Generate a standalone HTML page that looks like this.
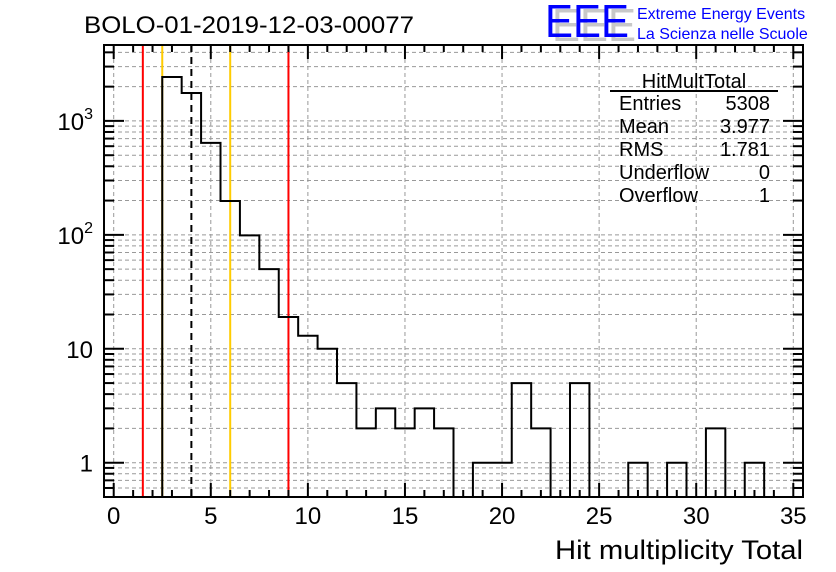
<!DOCTYPE html>
<html><head><meta charset="utf-8"><style>
body{margin:0;background:#fff;}
svg{display:block;font-family:"Liberation Sans",sans-serif;}
</style></head><body>
<svg id="c" width="836" height="572" viewBox="0 0 836 572">
<rect width="836" height="572" fill="#fff"/>
<text x="84" y="33" font-size="24" textLength="330" lengthAdjust="spacingAndGlyphs">BOLO-01-2019-12-03-00077</text>
<g>
<text x="552" y="41" font-size="46" fill="#c8c8c8" textLength="84" lengthAdjust="spacingAndGlyphs">EEE</text>
<text x="545" y="37" font-size="46" fill="#0000ff" textLength="84" lengthAdjust="spacingAndGlyphs">EEE</text>
<text x="637" y="19" font-size="16" fill="#0000ff">Extreme Energy Events</text>
<text x="637" y="39" font-size="16" fill="#0000ff">La Scienza nelle Scuole</text>
</g>
<g id="grid"></g>
<g id="marks"></g>
<g id="axes"></g>
<g font-size="20">
<text x="694" y="88" text-anchor="middle">HitMultTotal</text>
<line x1="610" y1="91" x2="778" y2="91" stroke="#000" stroke-width="2"/>
<text x="619" y="110">Entries</text><text x="770" y="110" text-anchor="end">5308</text>
<text x="619" y="133">Mean</text><text x="770" y="133" text-anchor="end">3.977</text>
<text x="619" y="156">RMS</text><text x="770" y="156" text-anchor="end">1.781</text>
<text x="619" y="179">Underflow</text><text x="770" y="179" text-anchor="end">0</text>
<text x="619" y="202">Overflow</text><text x="770" y="202" text-anchor="end">1</text>
</g>
<text x="555" y="559" font-size="27" textLength="248" lengthAdjust="spacingAndGlyphs">Hit multiplicity Total</text>
</svg>
<script>
const binCenters=[3,4,5,6,7,8,9,10,11,12,13,14,15,16,17,18,19,20,21,22,23,24,25,26,27,28,29,30,31,32,33,34,35];
const binCounts=[2430,1760,641,198,99,50,19,13,10,5,2,3,2,3,2,0,1,1,5,2,0,5,0,0,1,0,1,0,2,0,1,0,0];
const xTicks=[0,5,10,15,20,25,30,35];
const yMajor=[1,10,100,1000];
const yLabels=["1","10","10²","10³"];
const redLines=[1.5,9];
const yellowLines=[2.5,6];
const dashedLines=[4];
const NS="http://www.w3.org/2000/svg";
const L=104,R=803,T=45,B=497,xmin=-0.5,xmax=35.5,ymin=0.5,ymax=4640;
const X=v=>L+(v-xmin)/(xmax-xmin)*(R-L);
const Y=v=>B-(Math.log10(v)-Math.log10(ymin))/(Math.log10(ymax)-Math.log10(ymin))*(B-T);
function mk(p,t,a){const e=document.createElementNS(NS,t);for(const k in a)e.setAttribute(k,a[k]);p.appendChild(e);return e;}
const grid=document.getElementById('grid'),marks=document.getElementById('marks'),axes=document.getElementById('axes');
xTicks.forEach(v=>{const e=mk(grid,'line',{x1:X(v),x2:X(v),y1:T,y2:B,stroke:'#999','stroke-dasharray':'4,3','stroke-width':1});

});
const yGridVals=[];
for(let d=0.1;d<=1000;d*=10){for(let m=1;m<10;m++){const v=Math.round(d*m*1000)/1000;if(v>=ymin&&v<=ymax)yGridVals.push(v);}}
yGridVals.forEach(v=>{const e=mk(grid,'line',{x1:L,x2:R,y1:Y(v),y2:Y(v),stroke:'#999','stroke-dasharray':'4,3','stroke-width':1});

});
redLines.forEach(v=>{const e=mk(marks,'line',{x1:X(v),x2:X(v),y1:T,y2:B,stroke:'#ff0000','stroke-width':2});

});
yellowLines.forEach(v=>{const e=mk(marks,'line',{x1:X(v),x2:X(v),y1:T,y2:B,stroke:'#ffcc00','stroke-width':2});

});
dashedLines.forEach(v=>{const e=mk(marks,'line',{x1:X(v),x2:X(v),y1:T,y2:B,stroke:'#000','stroke-width':2,'stroke-dasharray':'7,5'});

});
let d='M'+X(binCenters[0]-0.5)+','+B;
binCenters.forEach((c,i)=>{const v=binCounts[i];const y=v>0?Y(v):B;d+=' L'+X(c-0.5)+','+y+' L'+X(c+0.5)+','+y;});
d+=' L'+X(binCenters[binCenters.length-1]+0.5)+','+B;
const h=mk(marks,'path',{d:d,fill:'none',stroke:'#000','stroke-width':2});


const f=mk(axes,'rect',{x:L,y:T,width:R-L,height:B-T,fill:'none',stroke:'#000','stroke-width':2});


for(let v=0;v<=35;v++){const len=v%5===0?14:7;
const a=mk(axes,'line',{x1:X(v),x2:X(v),y1:B,y2:B-len,stroke:'#000','stroke-width':2});


const b=mk(axes,'line',{x1:X(v),x2:X(v),y1:T,y2:T+len,stroke:'#000','stroke-width':2});

}
xTicks.forEach(v=>{const t=mk(axes,'text',{x:X(v),y:524,'font-size':24,'text-anchor':'middle'});t.textContent=v;

});
yGridVals.forEach(v=>{const maj=yMajor.includes(v);const len=maj?20:10;
const a=mk(axes,'line',{x1:L,x2:L+len,y1:Y(v),y2:Y(v),stroke:'#000','stroke-width':2});


const b=mk(axes,'line',{x1:R,x2:R-len,y1:Y(v),y2:Y(v),stroke:'#000','stroke-width':2});

});
yMajor.forEach((v,i)=>{const t=mk(axes,'text',{x:93,y:Y(v)+9,'font-size':24,'text-anchor':'end'});
if(v>=100){t.textContent='10';const s=mk(t,'tspan',{dy:-11,'font-size':16});s.textContent=String(Math.log10(v));}else t.textContent=yLabels[i];

});
</script>
</body></html>
